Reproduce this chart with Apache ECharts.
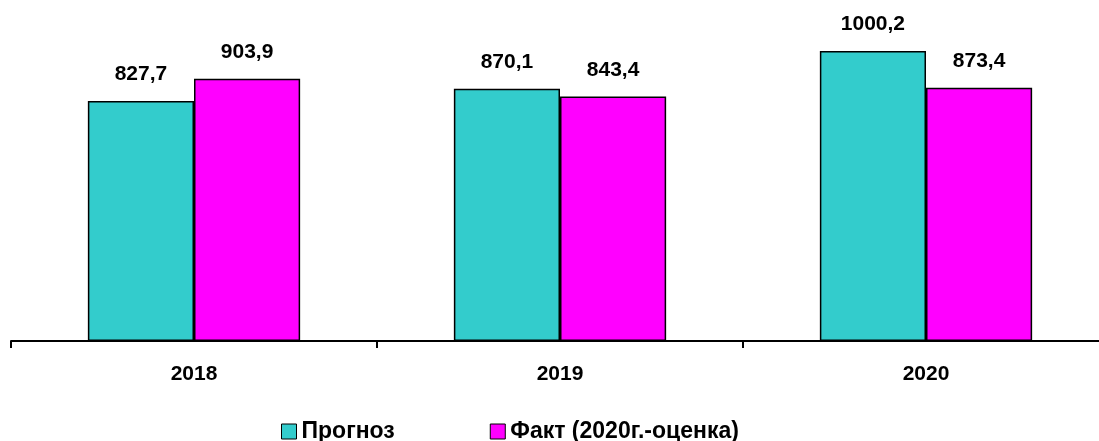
<!DOCTYPE html>
<html>
<head>
<meta charset="utf-8">
<script src="https://cdn.jsdelivr.net/npm/echarts@6/dist/echarts.min.js"></script>
<style>
  html, body { margin: 0; padding: 0; background: #fff; overflow: hidden; }
  /* чуть шире окна: правый конец оси уходит за край, как в оригинале */
  #chart { width: 1110px; height: 441px; }
</style>
</head>
<body>
<div id="chart"></div>
<script>
// данные
var years = ['2018', '2019', '2020']
var prognoz = [827.7, 870.1, 1000.2]
var fakt = [903.9, 843.4, 873.4]

var chart = echarts.init(document.getElementById('chart'))

function fmt (p) {
  return String(p.value.toFixed(1)).replace('.', ',')
}

var font = 'Liberation Sans, Arial'

var labelStyle = {
  show: true,
  position: 'top',
  distance: 16,
  formatter: fmt,
  color: '#000',
  fontFamily: font,
  fontWeight: 'bold',
  fontSize: 21
}

chart.setOption({
  animation: false,
  grid: {
    left: 11,
    right: 1,
    top: 22,
    bottom: 100,
    containLabel: false
  },
  legend: {
    top: 415,
    left: 276,
    itemWidth: 15,
    itemHeight: 15,
    itemGap: 95,
    icon: 'rect',
    itemStyle: { borderColor: '#000', borderWidth: 1 },
    textStyle: {
      color: '#000',
      fontFamily: font,
      fontWeight: 'bold',
      fontSize: 23
    },
    data: ['Прогноз', 'Факт (2020г.-оценка)']
  },
  xAxis: {
    type: 'category',
    data: years,
    axisLine: { lineStyle: { color: '#000', width: 2 } },
    axisTick: { show: true, length: 7, lineStyle: { color: '#000', width: 2 } },
    axisLabel: {
      color: '#000',
      fontFamily: font,
      fontWeight: 'bold',
      fontSize: 21,
      margin: 23
    }
  },
  yAxis: {
    type: 'value',
    min: 0,
    max: 1100,
    show: false,
    splitLine: { show: false }
  },
  series: [
    {
      name: 'Прогноз',
      type: 'bar',
      data: prognoz,
      barGap: '0%',
      barCategoryGap: '42%',
      itemStyle: { color: '#33CCCC', borderColor: '#000', borderWidth: 1.5 },
      label: labelStyle
    },
    {
      name: 'Факт (2020г.-оценка)',
      type: 'bar',
      data: fakt,
      itemStyle: { color: '#FF00FF', borderColor: '#000', borderWidth: 1.5 },
      label: labelStyle
    }
  ]
})
</script>
</body>
</html>
